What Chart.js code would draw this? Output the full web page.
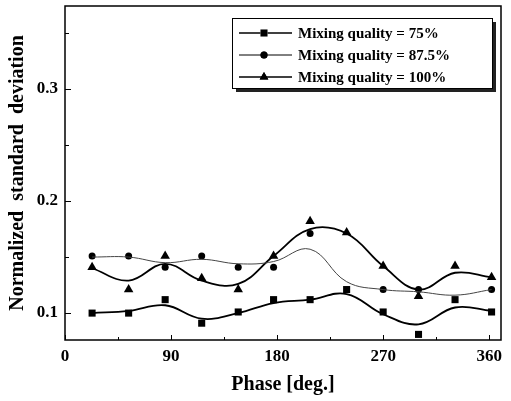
<!DOCTYPE html>
<html>
<head>
<meta charset="utf-8">
<script src="https://cdn.jsdelivr.net/npm/chart.js@4/dist/chart.umd.min.js"></script>
<style>
	html, body { margin: 0; padding: 0; background: #fff; }
	#wrap { width: 511px; height: 401px; }
</style>
</head>
<body>
<div id="wrap"><canvas id="chart" width="511" height="401"></canvas></div>
<script>
// data

const phase = [23, 54, 85, 116, 147, 177, 208, 239, 270, 300, 331, 362];

const q75 = [0.100, 0.100, 0.112, 0.091, 0.101, 0.112, 0.112, 0.121, 0.101, 0.081, 0.112, 0.101];
const q875 = [0.151, 0.151, 0.141, 0.151, 0.141, 0.141, 0.171, null, 0.121, 0.121, null, 0.121];
const q100 = [0.141, 0.121, 0.151, 0.131, 0.121, 0.151, 0.182, 0.172, 0.142, 0.115, 0.142, 0.132];

// smooth curves as drawn in the figure
const fit75 = [0.100, 0.102, 0.107, 0.095, 0.100, 0.109, 0.112, 0.117, 0.099, 0.090, 0.105, 0.102];
const fit875 = [0.150, 0.150, 0.145, 0.148, 0.144, 0.146, 0.157, 0.128, 0.121, 0.119, 0.116, 0.121];
const fit100 = [0.140, 0.129, 0.144, 0.129, 0.126, 0.151, 0.175, 0.171, 0.142, 0.121, 0.136, 0.132];

const seriesNames = ['Mixing quality = 75%', 'Mixing quality = 87.5%', 'Mixing quality = 100%'];

const xTicks = [0, 45, 90, 135, 180, 225, 270, 315, 360];
const xLabels = [0, 90, 180, 270, 360];
const yTicks = [0.1, 0.15, 0.2, 0.25, 0.3, 0.35];
const yLabels = [0.1, 0.2, 0.3];

const serif = "'Liberation Serif', 'Times New Roman', serif";

function pts(ys) {
	return phase.map((x, i) => ({x: x, y: ys[i]}));
}

// ----- ----- -----
// plugin: frame, inward ticks, legend box
// ----- ----- -----

const framePlugin = {
	id: 'frame',
	afterDraw(chart) {
		const ctx = chart.ctx;
		const a = chart.chartArea;
		const xs = chart.scales.x;
		const ys = chart.scales.y;

		ctx.save();
		ctx.strokeStyle = '#000';
		ctx.lineWidth = 1.5;
		ctx.strokeRect(a.left, a.top, a.right - a.left, a.bottom - a.top);

		ctx.lineWidth = 1;
		ctx.beginPath();
		xTicks.forEach(v => {
			let px = Math.round(xs.getPixelForValue(v)) + 0.5;
			let len = xLabels.includes(v) ? 5 : 3;
			ctx.moveTo(px, a.bottom);
			ctx.lineTo(px, a.bottom - len);
		});
		yTicks.forEach(v => {
			let py = Math.round(ys.getPixelForValue(v)) + 0.5;
			let len = yLabels.some(l => Math.abs(l - v) < 1e-9) ? 6 : 4;
			ctx.moveTo(a.left, py);
			ctx.lineTo(a.left + len, py);
		});
		ctx.stroke();

		// legend
		const bx = 232, by = 18, bw = 260, bh = 70;
		ctx.fillStyle = '#222';
		ctx.fillRect(bx + 4, by + 4, bw, bh);
		ctx.fillStyle = '#fff';
		ctx.fillRect(bx, by, bw, bh);
		ctx.strokeStyle = '#000';
		ctx.lineWidth = 1;
		ctx.strokeRect(bx + 0.5, by + 0.5, bw, bh);

		const markers = [
			{pointStyle: 'rect', radius: 5},
			{pointStyle: 'circle', radius: 3.5},
			{pointStyle: 'triangle', radius: 5}
		];
		const widths = [1.6, 1, 1.6];

		ctx.font = 'bold 15px ' + serif;
		ctx.textBaseline = 'middle';
		seriesNames.forEach((name, i) => {
			let y = by + 15 + i * 22;
			ctx.strokeStyle = '#000';
			ctx.lineWidth = widths[i];
			ctx.beginPath();
			ctx.moveTo(bx + 7, y);
			ctx.lineTo(bx + 60, y);
			ctx.stroke();
			Chart.helpers.drawPoint(ctx, {
				pointStyle: markers[i].pointStyle,
				radius: markers[i].radius,
				rotation: 0,
				borderWidth: 0
			}, bx + 32, y);
			ctx.fillStyle = '#000';
			ctx.fill();
			ctx.fillText(name, bx + 66, y + 1);
		});
		ctx.restore();
	}
};

// ----- ----- -----
// chart
// ----- ----- -----

const ctx = document.getElementById('chart');

const markerSet = {
	pointBackgroundColor: '#000',
	pointBorderColor: '#000',
	pointBorderWidth: 0,
	showLine: false
};

const chart = new Chart(ctx, {
	type: 'scatter',
	data: {
		datasets: [{
			label: 'fit 75',
			data: pts(fit75),
			showLine: true,
			borderColor: '#000',
			borderWidth: 1.8,
			tension: 0.4,
			pointRadius: 0
		}, {
			label: 'fit 87.5',
			data: pts(fit875),
			showLine: true,
			borderColor: '#444',
			borderWidth: 1,
			tension: 0.4,
			pointRadius: 0
		}, {
			label: 'fit 100',
			data: pts(fit100),
			showLine: true,
			borderColor: '#000',
			borderWidth: 1.8,
			tension: 0.4,
			pointRadius: 0
		}, Object.assign({
			label: seriesNames[0],
			data: pts(q75),
			pointStyle: 'rect',
			pointRadius: 5
		}, markerSet), Object.assign({
			label: seriesNames[1],
			data: pts(q875),
			pointStyle: 'circle',
			pointRadius: 3.5
		}, markerSet), Object.assign({
			label: seriesNames[2],
			data: pts(q100),
			pointStyle: 'triangle',
			pointRadius: 5.5
		}, markerSet)]
	},
	options: {
		responsive: false,
		animation: false,
		layout: {
			padding: {top: 6, right: 10, left: 0, bottom: 0}
		},
		plugins: {
			legend: {display: false},
			tooltip: {enabled: false}
		},
		scales: {
			x: {
				type: 'linear',
				min: 0,
				max: 370,
				afterBuildTicks: scale => {
					scale.ticks = xLabels.map(v => ({value: v}));
				},
				afterFit: scale => {
					scale.height = 61;
					scale.paddingLeft = 0;
					scale.paddingRight = 0;
				},
				grid: {display: false, drawTicks: false},
				border: {display: false},
				ticks: {
					color: '#000',
					padding: 6,
					maxRotation: 0,
					font: {family: serif, size: 17, weight: 'bold'}
				},
				title: {
					display: true,
					text: 'Phase [deg.]',
					color: '#000',
					padding: {top: 0, bottom: 4},
					font: {family: serif, size: 20, weight: 'bold'}
				}
			},
			y: {
				type: 'linear',
				min: 0.076,
				max: 0.374,
				afterBuildTicks: scale => {
					scale.ticks = yLabels.map(v => ({value: v}));
				},
				afterFit: scale => {
					scale.width = 65;
					scale.paddingTop = 0;
					scale.paddingBottom = 0;
				},
				grid: {display: false, drawTicks: false},
				border: {display: false},
				ticks: {
					color: '#000',
					padding: 7,
					font: {family: serif, size: 17, weight: 'bold'},
					callback: v => v.toFixed(1)
				},
				title: {
					display: true,
					text: 'Normalized  standard  deviation',
					color: '#000',
					padding: {top: 6, bottom: 0},
					font: {family: serif, size: 20, weight: 'bold'}
				}
			}
		}
	},
	plugins: [framePlugin]
});
</script>
</body>
</html>
